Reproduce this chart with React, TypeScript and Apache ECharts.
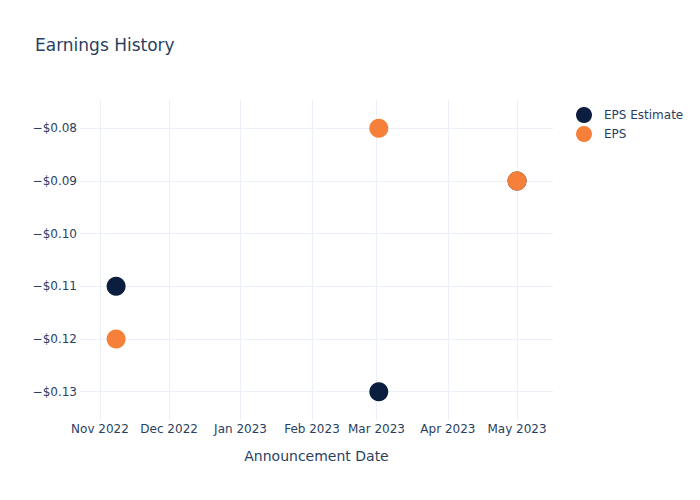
import React, { useEffect, useRef } from "react";
import * as echarts from "echarts";

const dates: string[] = ["2022-11-08", "2023-03-02", "2023-05-01"];
const epsEstimate: number[] = [-0.11, -0.13, -0.09];
const epsActual: number[] = [-0.12, -0.08, -0.09];
const seriesNames: string[] = ["EPS Estimate", "EPS"];
const seriesColors: string[] = ["#0b1e3f", "#f6803a"];

const toTs = (d: string) => {
  const [y, m, day] = d.split("-").map(Number);
  return Date.UTC(y, m - 1, day);
};

const FONT = "DejaVu Sans, Verdana, sans-serif";
const TEXT = "#2a3f5f";
const GRID = "#ebf0f8";

export default function App() {
  const ref = useRef<HTMLDivElement>(null);
  useEffect(() => {
    if (!ref.current) return;
    const chart = echarts.init(ref.current, undefined, { renderer: "svg" });
    const DAY = 86400000;
    const xMin = Date.UTC(2022, 10, 1) - 8.67 * DAY;
    const xMax = Date.UTC(2023, 4, 1) + 15.6 * DAY;
    chart.setOption({
      animation: false,
      useUTC: true,
      backgroundColor: "#ffffff",
      textStyle: { fontFamily: FONT, color: TEXT },
      title: {
        text: "Earnings History",
        left: 30,
        top: 31,
        textStyle: { fontFamily: FONT, fontSize: 17, fontWeight: "normal", color: TEXT },
      },
      legend: {
        left: 571,
        top: 102,
        orient: "vertical",
        itemWidth: 30,
        itemHeight: 16,
        itemGap: 3,
        icon: "circle",
        data: seriesNames,
        textStyle: { fontFamily: FONT, fontSize: 12, color: TEXT, padding: [0, 0, 0, 0] },
      },
      grid: { left: 80, right: 147, top: 100, bottom: 80 },
      xAxis: {
        type: "time",
        min: xMin,
        max: xMax,
        minInterval: 28 * DAY,
        maxInterval: 31 * DAY,
        name: "Announcement Date",
        nameLocation: "middle",
        nameGap: 29,
        nameTextStyle: { fontFamily: FONT, fontSize: 14, color: TEXT },
        axisLine: { show: false },
        axisTick: { show: false },
        axisLabel: {
          formatter: "{MMM} {yyyy}",
          fontFamily: FONT,
          fontSize: 12,
          color: TEXT,
          margin: 3,
          showMinLabel: false,
          showMaxLabel: false,
          hideOverlap: false,
        },
        splitLine: { show: true, showMinLine: false, showMaxLine: false, lineStyle: { color: GRID, width: 1 } },
      },
      yAxis: {
        type: "value",
        min: -0.13537,
        max: -0.07463,
        splitNumber: 6,
        axisLine: { show: false },
        axisTick: { show: false },
        axisLabel: {
          fontFamily: FONT,
          fontSize: 12,
          color: TEXT,
          margin: 3,
          showMinLabel: false,
          showMaxLabel: false,
          formatter: (v: number) => {
            const r = Math.round(v * 100) / 100;
            if (Math.abs(r - v) > 1e-6) return "";
            return (r < 0 ? "\u2212" : "") + "$" + Math.abs(r).toFixed(2);
          },
        },
        splitLine: { show: true, showMinLine: false, showMaxLine: false, lineStyle: { color: GRID, width: 1 } },
      },
      series: [
        {
          name: seriesNames[0],
          type: "scatter",
          symbol: "circle",
          symbolSize: 19,
          itemStyle: { color: seriesColors[0], opacity: 1 },
          data: dates.map((d, i) => [toTs(d), epsEstimate[i]]),
          z: 2,
        },
        {
          name: seriesNames[1],
          type: "scatter",
          symbol: "circle",
          symbolSize: 19,
          itemStyle: { color: seriesColors[1], opacity: 1 },
          data: dates.map((d, i) => [toTs(d), epsActual[i]]),
          z: 3,
        },
      ],
    });
    return () => chart.dispose();
  }, []);
  return (
    <div
      ref={ref}
      style={{ position: "fixed", left: 0, top: 0, width: 700, height: 500 }}
    />
  );
}
